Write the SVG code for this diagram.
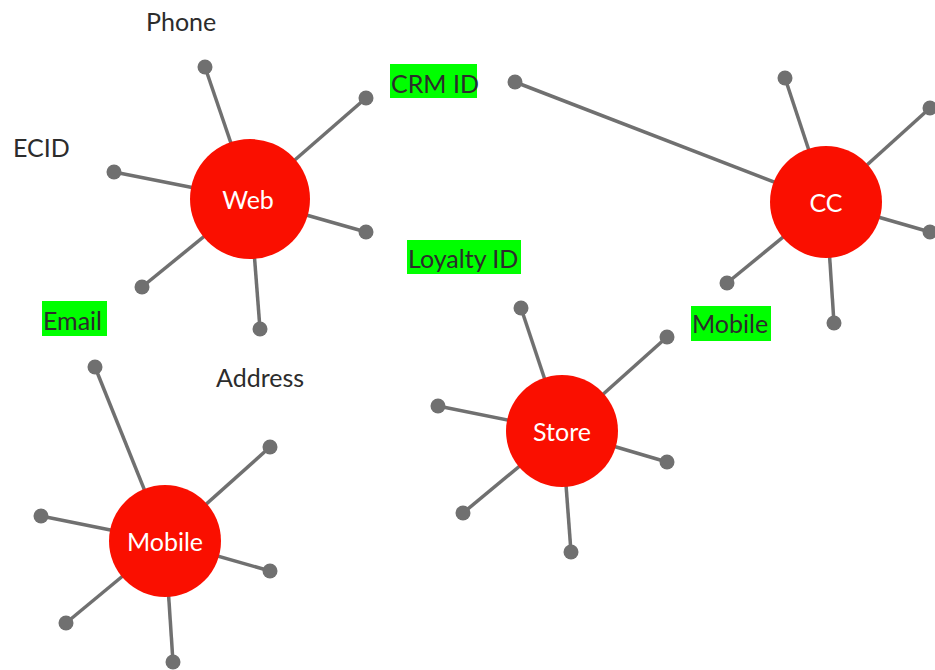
<svg xmlns="http://www.w3.org/2000/svg" width="935" height="670" viewBox="0 0 935 670">
<style>
.spoke{stroke:#707070;stroke-width:3.5;fill:none}
.dot{fill:#707070}
.hub{fill:#fa0f00}
.hubtext{fill:#ffffff;font-family:Lato,"Open Sans",sans-serif;font-size:25px;text-anchor:middle}
.lbl{fill:#2c2c2c;font-family:Lato,"Open Sans",sans-serif;font-size:25px}
.hl{fill:#00ff00}
</style>
<rect width="935" height="670" fill="#ffffff"/>
<g id="connectors">
  <line class="spoke" x1="250" y1="199" x2="205" y2="67"/>
  <line class="spoke" x1="250" y1="199" x2="366" y2="98"/>
  <line class="spoke" x1="250" y1="199" x2="114" y2="172"/>
  <line class="spoke" x1="250" y1="199" x2="366" y2="232"/>
  <line class="spoke" x1="250" y1="199" x2="142" y2="287"/>
  <line class="spoke" x1="250" y1="199" x2="260" y2="329"/>

  <line class="spoke" x1="826" y1="202" x2="785" y2="78"/>
  <line class="spoke" x1="826" y1="202" x2="930" y2="108"/>
  <line class="spoke" x1="826" y1="202" x2="930" y2="232"/>
  <line class="spoke" x1="826" y1="202" x2="727" y2="283"/>
  <line class="spoke" x1="826" y1="202" x2="834" y2="323"/>
  <line class="spoke" x1="826" y1="202" x2="515" y2="82"/>

  <line class="spoke" x1="562" y1="431" x2="521" y2="308"/>
  <line class="spoke" x1="562" y1="431" x2="667" y2="337"/>
  <line class="spoke" x1="562" y1="431" x2="438" y2="406"/>
  <line class="spoke" x1="562" y1="431" x2="667" y2="462"/>
  <line class="spoke" x1="562" y1="431" x2="463" y2="513"/>
  <line class="spoke" x1="562" y1="431" x2="571" y2="552"/>

  <line class="spoke" x1="165" y1="541" x2="95" y2="367"/>
  <line class="spoke" x1="165" y1="541" x2="270" y2="447"/>
  <line class="spoke" x1="165" y1="541" x2="41" y2="516"/>
  <line class="spoke" x1="165" y1="541" x2="270" y2="571"/>
  <line class="spoke" x1="165" y1="541" x2="66" y2="623"/>
  <line class="spoke" x1="165" y1="541" x2="173" y2="662"/>
</g>
<g id="web-ids">
  <circle class="dot" cx="205" cy="67" r="7.5"/>
  <circle class="dot" cx="366" cy="98" r="7.5"/>
  <circle class="dot" cx="114" cy="172" r="7.5"/>
  <circle class="dot" cx="366" cy="232" r="7.5"/>
  <circle class="dot" cx="142" cy="287" r="7.5"/>
  <circle class="dot" cx="260" cy="329" r="7.5"/>
</g>
<g id="cc-ids">
  <circle class="dot" cx="785" cy="78" r="7.5"/>
  <circle class="dot" cx="930" cy="108" r="7.5"/>
  <circle class="dot" cx="930" cy="232" r="7.5"/>
  <circle class="dot" cx="727" cy="283" r="7.5"/>
  <circle class="dot" cx="834" cy="323" r="7.5"/>
  <circle class="dot" cx="515" cy="82" r="7.5"/>
</g>
<g id="store-ids">
  <circle class="dot" cx="521" cy="308" r="7.5"/>
  <circle class="dot" cx="667" cy="337" r="7.5"/>
  <circle class="dot" cx="438" cy="406" r="7.5"/>
  <circle class="dot" cx="667" cy="462" r="7.5"/>
  <circle class="dot" cx="463" cy="513" r="7.5"/>
  <circle class="dot" cx="571" cy="552" r="7.5"/>
</g>
<g id="mobile-ids">
  <circle class="dot" cx="95" cy="367" r="7.5"/>
  <circle class="dot" cx="270" cy="447" r="7.5"/>
  <circle class="dot" cx="41" cy="516" r="7.5"/>
  <circle class="dot" cx="270" cy="571" r="7.5"/>
  <circle class="dot" cx="66" cy="623" r="7.5"/>
  <circle class="dot" cx="173" cy="662" r="7.5"/>
</g>
<g id="web">
  <circle class="hub" cx="250" cy="199" r="60"/>
  <text class="hubtext" x="248" y="209">Web</text>
</g>
<g id="cc">
  <circle class="hub" cx="826" cy="202" r="56"/>
  <text class="hubtext" x="826" y="212">CC</text>
</g>
<g id="store">
  <circle class="hub" cx="562" cy="431" r="56"/>
  <text class="hubtext" x="562" y="441">Store</text>
</g>
<g id="mobile">
  <circle class="hub" cx="165" cy="541" r="56"/>
  <text class="hubtext" x="165" y="551">Mobile</text>
</g>
<g id="label-phone"><text class="lbl" x="146" y="31">Phone</text></g>
<g id="label-ecid"><text class="lbl" x="13" y="157">ECID</text></g>
<g id="label-address"><text class="lbl" x="216" y="387">Address</text></g>
<g id="label-crmid"><rect class="hl" x="390" y="64" width="87" height="34"/><text class="lbl" x="391" y="93">CRM ID</text></g>
<g id="label-loyaltyid"><rect class="hl" x="407" y="240" width="114" height="34"/><text class="lbl" x="408" y="268">Loyalty ID</text></g>
<g id="label-email"><rect class="hl" x="42" y="301" width="65" height="35"/><text class="lbl" x="43" y="330">Email</text></g>
<g id="label-mobile"><rect class="hl" x="691" y="306" width="80" height="35"/><text class="lbl" x="692" y="333">Mobile</text></g>
</svg>
